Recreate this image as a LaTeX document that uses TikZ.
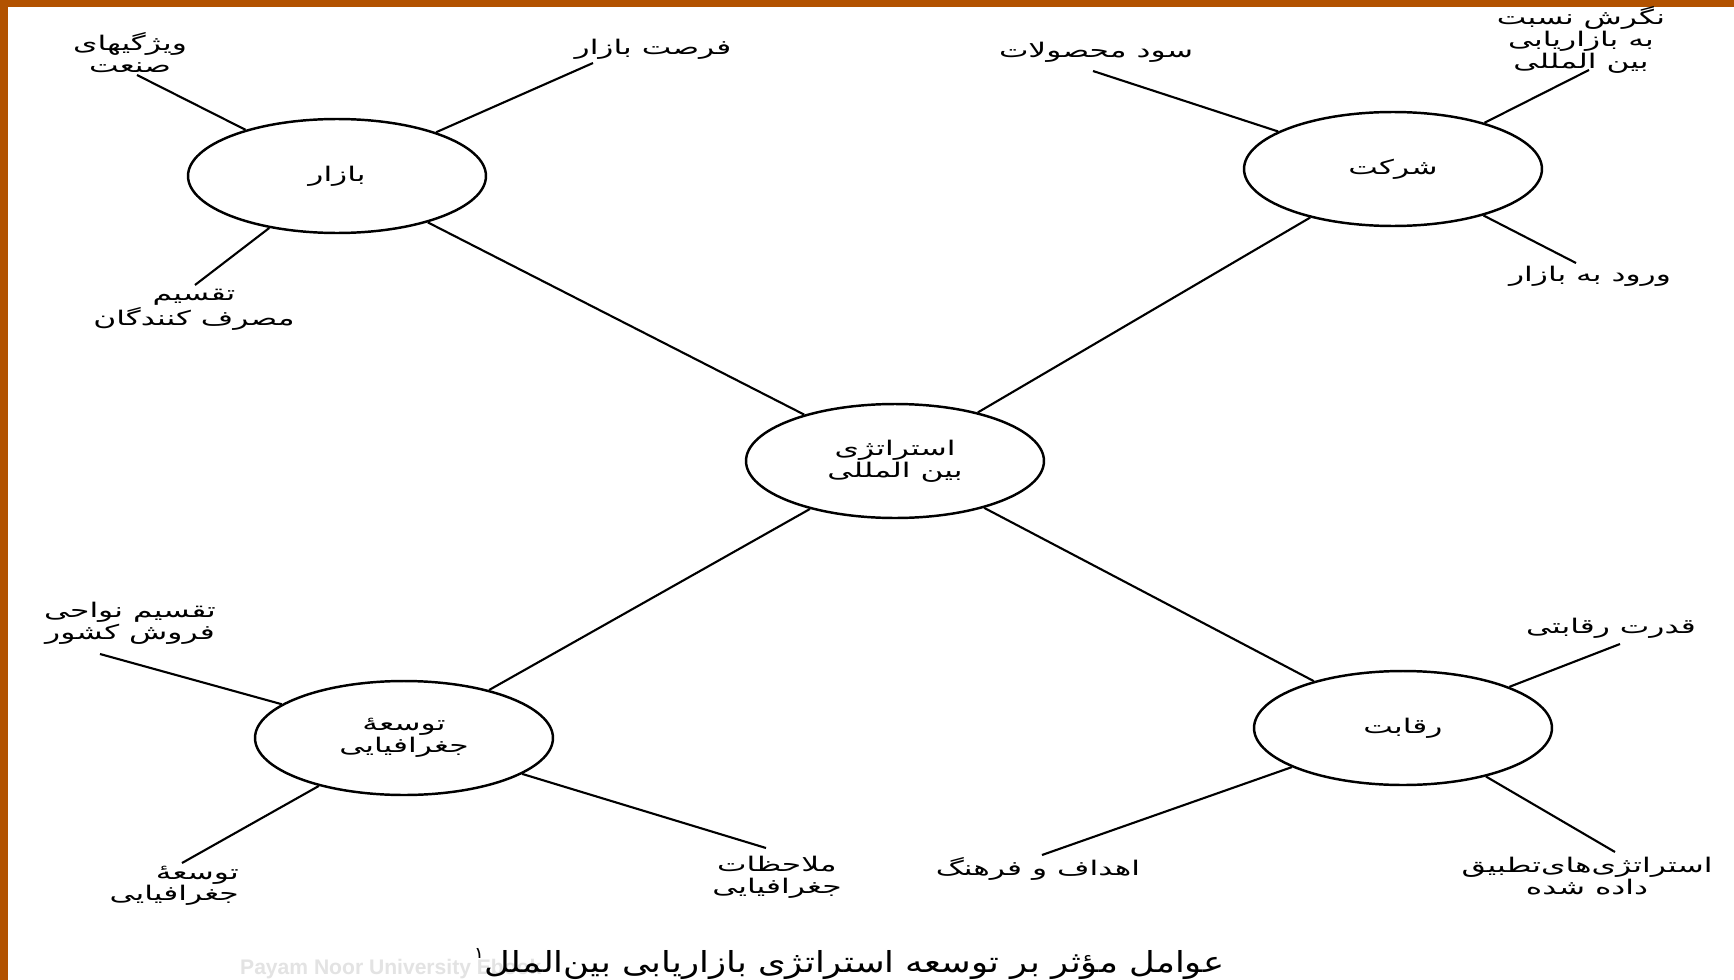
\documentclass[tikz,border=0pt]{standalone}
\usepackage{fontspec}
\setsansfont{Liberation Sans}
\newfontfamily\arabicfont[Script=Arabic, FakeStretch=1.55]{DejaVu Sans}
\newfontfamily\captionfont[Script=Arabic, FakeStretch=1.22]{DejaVu Sans}
\usepackage{tikz}
\usetikzlibrary{positioning,shapes.geometric}
\TeXXeTstate=1
\newcommand{\fa}[1]{\beginR #1\endR}
\definecolor{frameorange}{RGB}{178,82,0}

\tikzset{
  factor/.style={ellipse, draw, line width=1.4pt, minimum width=5.96cm, minimum height=2.28cm, inner sep=0pt},
  item/.style={align=center, font=\arabicfont\fontsize{11.5}{12.5}\selectfont},
  spoke/.style={line width=1.2pt}
}

\begin{document}
\begin{tikzpicture}[x=0.02cm, y=-0.02cm]
        \fill[white] (0,0) rectangle (1734,980);
        \fill[frameorange] (0,0) rectangle (1734,7);
        \fill[frameorange] (0,0) rectangle (8,980);
        \useasboundingbox (0,0) rectangle (1734,980);

        \node[factor, item] (strategy) at (895,461) {\fa{استراتژی}\\\fa{بین المللی}};
        \node[factor, item] (market) at (337,176) {\fa{بازار}};
        \node[factor, item] (firm) at (1393,169) {\fa{شرکت}};
        \node[factor, item] (geo) at (404,738) {\fa{توسعهٔ}\\\fa{جغرافیایی}};
        \node[factor, item] (rival) at (1403,728) {\fa{رقابت}};

        \coordinate (marketA) at (137,75);
        \coordinate (marketB) at (593,63);
        \coordinate (marketC) at (195,285);
        \coordinate (firmA) at (1093,71);
        \coordinate (firmB) at (1589,70);
        \coordinate (firmC) at (1576,263);
        \coordinate (geoA) at (100,654);
        \coordinate (geoB) at (182,863);
        \coordinate (geoC) at (766,848);
        \coordinate (rivalA) at (1620,644);
        \coordinate (rivalB) at (1042,855);
        \coordinate (rivalC) at (1615,852);

        \node[item] (marketAtext) at (130,53) {\fa{ویژگیهای}\\\fa{صنعت}};
        \node[item] (marketBtext) at (653,49) {\fa{فرصت بازار}};
        \node[item] (marketCtext) at (194,310) {\fa{تقسیم}\\\fa{مصرف کنندگان}};
        \node[item] (firmAtext) at (1096,52) {\fa{سود محصولات}};
        \node[item] (firmBtext) at (1581,40) {\fa{نگرش نسبت}\\\fa{به بازاریابی}\\\fa{بین المللی}};
        \node[item] (firmCtext) at (1590,276) {\fa{ورود به بازار}};
        \node[item] (geoAtext) at (130,623) {\fa{تقسیم نواحی}\\\fa{فروش کشور}};
        \node[item, align=right, anchor=east] (geoBtext) at (245,886) {\fa{توسعهٔ}\\\fa{جغرافیایی}};
        \node[item] (geoCtext) at (777,877) {\fa{ملاحظات}\\\fa{جغرافیایی}};
        \node[item] (rivalAtext) at (1611,628) {\fa{قدرت رقابتی}};
        \node[item] (rivalBtext) at (1038,869) {\fa{اهداف و فرهنگ}};
        \node[item] (rivalCtext) at (1587,876) {\fa{استراتژی‌های‌تطبیق}\\\fa{داده شده}};

        \node[anchor=west, font=\sffamily\bfseries\fontsize{12}{14}\selectfont, text=gray!22] (mark) at (234,969) {Payam Noor University Ebook};
        \node[font=\captionfont\fontsize{16.5}{18}\selectfont] (caption) at (849,964) {\fa{عوامل مؤثر بر توسعه استراتژی بازاریابی بین‌الملل\raisebox{0.9ex}{\fontsize{9}{10}\selectfont ۱}}};

        \draw[spoke] (strategy) edge (market);
        \draw[spoke] (strategy) edge (firm);
        \draw[spoke] (strategy) edge (geo);
        \draw[spoke] (strategy) edge (rival);

        \draw[spoke] (marketA) edge (market);
        \draw[spoke] (marketB) edge (market);
        \draw[spoke] (marketC) edge (market);
        \draw[spoke] (firmA) edge (firm);
        \draw[spoke] (firmB) edge (firm);
        \draw[spoke] (firmC) edge (firm);
        \draw[spoke] (geoA) edge (geo);
        \draw[spoke] (geoB) edge (geo);
        \draw[spoke] (geoC) edge (geo);
        \draw[spoke] (rivalA) edge (rival);
        \draw[spoke] (rivalB) edge (rival);
        \draw[spoke] (rivalC) edge (rival);
\end{tikzpicture}
\end{document}
